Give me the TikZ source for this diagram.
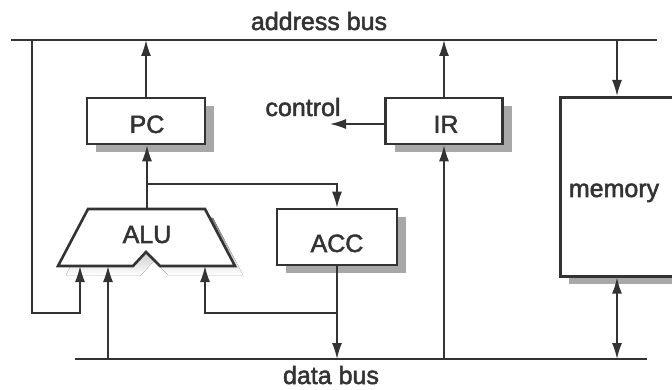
\documentclass[tikz,border=0pt]{standalone}
\usepackage{fontspec}
\setmainfont{Liberation Sans}
\newfontfamily\lblfont{Liberation Sans}[FakeBold=2]
\usetikzlibrary{arrows.meta,shadows}
\definecolor{ink}{gray}{0.2}
\definecolor{shade}{gray}{0.66}
\begin{document}
\begin{tikzpicture}[x=1pt,y=-1pt,
  lbl/.style={text=ink,inner sep=0pt,anchor=base,font=\lblfont\fontsize{25}{28}\selectfont},
  wire/.style={draw=ink,line width=1.5pt},
  bus/.style={draw=ink,line width=2.1pt},
  arr/.style={wire,-{Latex[length=16pt,width=10pt]}},
  darr/.style={wire,{Latex[length=16pt,width=10pt]}-{Latex[length=16pt,width=10pt]}},
  box/.style={draw=ink,line width=2.6pt,fill=white,inner sep=0pt,
    drop shadow={shadow xshift=9pt,shadow yshift=-8pt,fill=shade,opacity=1}}]
\useasboundingbox (0,0) rectangle (672,390);
\clip (0,0) rectangle (672,390);
\fill[white] (0,0) rectangle (672,390);

% buses
\coordinate (abL) at (11,40);  \coordinate (abR) at (657,40);
\coordinate (dbL) at (75,359); \coordinate (dbR) at (647,359);
\draw[bus] (abL) -- (abR);
\draw[bus] (dbL) -- (dbR);
\node[lbl] (abl) at (319,30) {address bus};
\node[lbl] (dbl) at (331,384) {data bus};

% boxes
\node[box,minimum width=118,minimum height=46] (pc) at (146,121) {};
\node[lbl] (pcl) at (147,133) {PC};
\node[box,minimum width=117,minimum height=46] (ir) at (444,121) {};
\node[lbl] (irl) at (446,133) {IR};
\node[box,minimum width=120,minimum height=56] (acc) at (337,237) {};
\node[lbl] (accl) at (337,252) {ACC};
\node[box,minimum width=190,minimum height=179,anchor=north west] (mem) at (559,96) {};
\node[lbl] (meml) at (614,197) {memory};

% ALU
\fill[shade] (96,218) -- (213,218) -- (243,275) -- (168,275) -- (154,261)
  -- (141,275) -- (66,275) -- cycle;
\draw[draw=ink,line width=2.6pt,fill=white,line join=miter]
  (88,209) -- (205,209) -- (235,266) -- (160,266) -- (146,252)
  -- (133,266) -- (58,266) -- cycle;
\node[lbl] (alu) at (147,243) {ALU};
\coordinate (aluT) at (147,209);
\coordinate (aluA) at (80,266);
\coordinate (aluB) at (108,266);
\coordinate (aluC) at (205,266);

% PC / ALU / ACC connections
\coordinate (pcab) at (146,40);
\draw[arr] (pc.north) -- (pcab);
\draw[arr] (aluT) -- (aluT |- pc.south);
\coordinate (br1) at (147,184);
\draw[arr] (br1) -| (acc.north);
\coordinate (accdb) at (337,359);
\draw[arr] (acc.south) -- (accdb);
\coordinate (br2) at (337,313);
\draw[arr] (br2) -| (aluC);
\coordinate (dbB) at (108,359);
\draw[arr] (dbB) -- (aluB);
\coordinate (lt) at (32,40);
\coordinate (lb) at (32,313);
\draw[arr] (lt) -- (lb) -| (aluA);

% IR connections
\coordinate (irab) at (444,40);
\coordinate (irdb) at (444,359);
\draw[arr] (ir.north) -- (irab);
\draw[arr] (irdb) -- (ir.south);
\coordinate (ctl) at (330,124);
\draw[arr] (ir.west |- ctl) -- (ctl);
\node[lbl] (ctll) at (303,116) {control};

% memory connections
\coordinate (memab) at (617,40);
\coordinate (memdb) at (617,359);
\draw[arr] (memab) -- (memab |- mem.north);
\draw[darr] (memab |- mem.south) -- (memdb);
\end{tikzpicture}
\end{document}
